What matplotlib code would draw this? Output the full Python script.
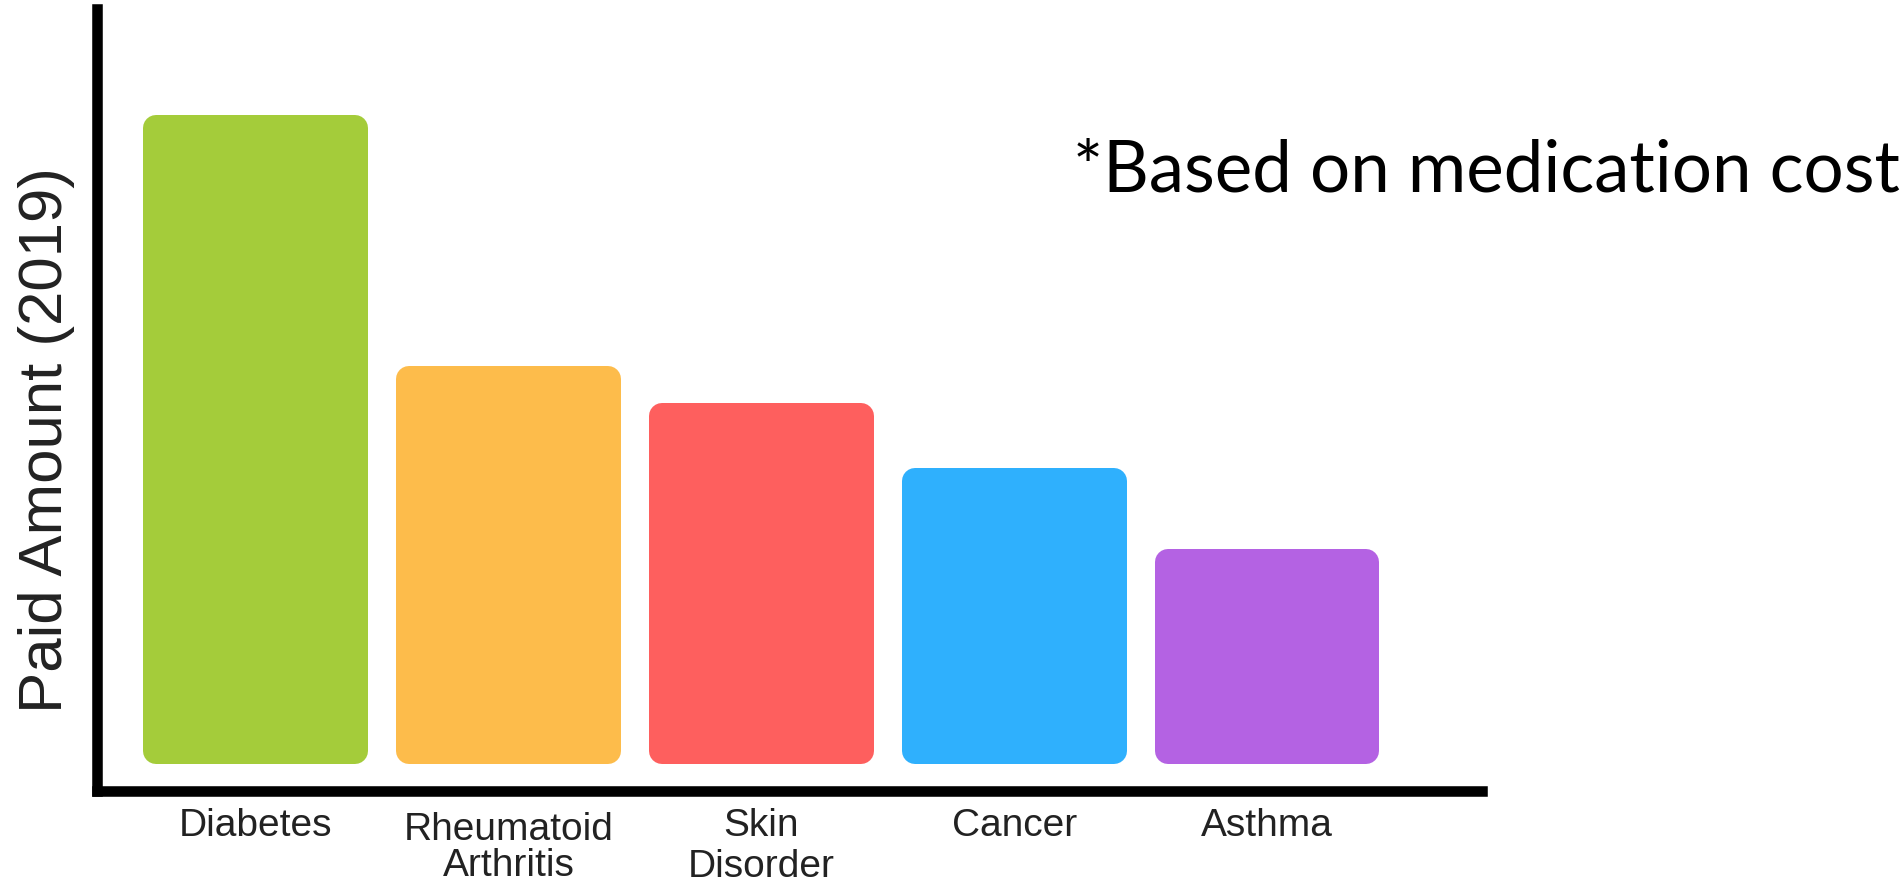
import matplotlib
matplotlib.use("Agg")
import matplotlib.pyplot as plt
from matplotlib.transforms import ScaledTranslation

# ---- data ----
categories = ["Diabetes", "Rheumatoid\nArthritis", "Skin\nDisorder", "Cancer", "Asthma"]
paid_amount = [649, 398, 361, 296, 215]          # relative paid amount (no scale shown)
bar_colors = ["#A4CC3A", "#FDBC4B", "#FE5F5E", "#2FB0FD", "#B462E3"]
note_text = "*Based on medication cost"
ylabel_text = "Paid Amount (2019)"

W, H, DPI = 1903, 889, 100
fig = plt.figure(figsize=(W / DPI, H / DPI), dpi=DPI)
fig.patch.set_facecolor("white")

# axes placement in pixels
ax_left, ax_right = 96.7, 1482
ax_bottom, ax_top = 791, 9
ax = fig.add_axes([ax_left / W, 1 - ax_bottom / H, (ax_right - ax_left) / W, (ax_bottom - ax_top) / H])

x = list(range(len(categories)))
xlim = (-0.628, 4.85)
ylim = (-27, 782 - 27)
ax.set_xlim(*xlim)
ax.set_ylim(*ylim)

ax_w_px = ax_right - ax_left
ax_h_px = ax_bottom - ax_top
px_per_x = ax_w_px / (xlim[1] - xlim[0])
px_per_y = ax_h_px / (ylim[1] - ylim[0])

# rounded corners: edge in bar colour with round joins
r_px = 13
lw_pt = 2 * r_px * 72 / DPI
r_x = r_px / px_per_x
r_y = r_px / px_per_y
bar_w = 0.889

for xi, v, c in zip(x, paid_amount, bar_colors):
    ax.bar(xi, v - 2 * r_y, bottom=r_y, width=bar_w - 2 * r_x, color=c,
           edgecolor=c, linewidth=lw_pt, joinstyle="round")

for s in ["top", "right"]:
    ax.spines[s].set_visible(False)
for s in ["left", "bottom"]:
    ax.spines[s].set_linewidth(7.6)
    ax.spines[s].set_color("black")
    ax.spines[s].set_capstyle("projecting")

ax.set_yticks([])
ax.set_xticks(x)
ax.set_xticklabels(categories, fontsize=28, color="#222222",
                   family=["Liberation Sans", "DejaVu Sans"])
ax.tick_params(axis="x", length=0, pad=12)
labels = ax.get_xticklabels()
labels[1].set_linespacing(1.0)
labels[1].set_transform(labels[1].get_transform() + ScaledTranslation(0, -4 / DPI, fig.dpi_scale_trans))
labels[2].set_linespacing(1.18)

fig.text(47 / W, 1 - 440 / H, ylabel_text, rotation=90, fontsize=44.5,
         color="#222222", ha="center", va="center",
         family=["Liberation Sans", "DejaVu Sans"])

fig.text(1073 / W, 1 - 191 / H, note_text, fontsize=51, color="black",
         ha="left", va="baseline", family=["Lato", "DejaVu Sans"])

fig.savefig("out.png", dpi=DPI, facecolor="white")
